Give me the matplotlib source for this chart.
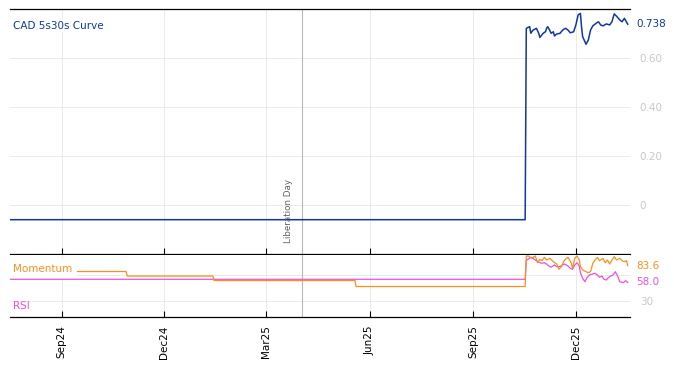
import matplotlib
matplotlib.use("Agg")
import matplotlib.pyplot as plt
import matplotlib.dates as mdates
import pandas as pd

# ---------------- data ----------------
curve_dates = ["2024-07-17", "2025-10-17", "2025-10-18", "2025-10-21", "2025-10-22", "2025-10-24",
               "2025-10-27", "2025-10-29", "2025-10-30", "2025-11-02", "2025-11-04", "2025-11-05",
               "2025-11-06", "2025-11-08", "2025-11-09", "2025-11-11", "2025-11-12", "2025-11-14",
               "2025-11-17", "2025-11-18", "2025-11-20", "2025-11-22", "2025-11-24", "2025-11-26",
               "2025-11-29", "2025-12-01", "2025-12-03", "2025-12-05", "2025-12-06", "2025-12-07",
               "2025-12-10", "2025-12-12", "2025-12-14", "2025-12-16", "2025-12-19", "2025-12-21",
               "2025-12-23", "2025-12-25", "2025-12-28", "2025-12-31", "2026-01-02", "2026-01-04",
               "2026-01-06", "2026-01-09", "2026-01-11", "2026-01-13", "2026-01-16"]
curve_values = [-0.06, -0.06, 0.721, 0.728, 0.701, 0.714,
                0.721, 0.701, 0.684, 0.701, 0.707, 0.721,
                0.728, 0.711, 0.701, 0.707, 0.690, 0.698,
                0.701, 0.707, 0.717, 0.721, 0.714, 0.703,
                0.707, 0.735, 0.776, 0.782, 0.728, 0.687,
                0.656, 0.673, 0.714, 0.731, 0.742, 0.748,
                0.735, 0.731, 0.739, 0.735, 0.748, 0.780,
                0.771, 0.755, 0.748, 0.762, 0.738]

mom_dates = ["2024-07-17", "2024-10-28", "2024-10-29", "2025-01-13", "2025-01-14", "2025-05-19",
             "2025-05-20", "2025-10-17", "2025-10-18", "2025-10-20", "2025-10-23", "2025-10-26",
             "2025-10-28", "2025-10-30", "2025-11-01", "2025-11-03", "2025-11-05", "2025-11-08",
             "2025-11-11", "2025-11-14", "2025-11-16", "2025-11-18", "2025-11-21", "2025-11-24",
             "2025-11-27", "2025-11-28", "2025-11-30", "2025-12-02", "2025-12-04", "2025-12-05",
             "2025-12-07", "2025-12-10", "2025-12-12", "2025-12-14", "2025-12-16", "2025-12-18",
             "2025-12-20", "2025-12-22", "2025-12-25", "2025-12-27", "2025-12-29", "2025-12-31",
             "2026-01-02", "2026-01-04", "2026-01-06", "2026-01-09", "2026-01-11", "2026-01-13",
             "2026-01-15", "2026-01-16"]
mom_values = [74.7, 74.7, 67.8, 67.8, 60.9, 60.9,
              51.7, 51.7, 98.5, 98.5, 94.9, 98.5,
              88.2, 93.4, 91.3, 96.5, 92.3, 94.9,
              89.7, 86.2, 78.1, 82.1, 92.3, 96.5,
              87.3, 79.6, 94.9, 98.5, 92.3, 82.1,
              77.0, 74.4, 72.9, 74.4, 87.3, 92.3,
              96.5, 91.3, 94.9, 88.2, 92.3, 86.2,
              92.3, 97.4, 92.3, 94.9, 91.3, 89.7,
              91.3, 83.6]

rsi_dates = ["2024-07-17", "2025-10-17", "2025-10-18", "2025-10-21", "2025-10-23", "2025-10-25",
             "2025-10-27", "2025-10-30", "2025-11-01", "2025-11-03", "2025-11-05", "2025-11-07",
             "2025-11-09", "2025-11-12", "2025-11-14", "2025-11-17", "2025-11-19", "2025-11-21",
             "2025-11-24", "2025-11-26", "2025-11-28", "2025-11-30", "2025-12-02", "2025-12-04",
             "2025-12-05", "2025-12-07", "2025-12-09", "2025-12-11", "2025-12-13", "2025-12-16",
             "2025-12-18", "2025-12-20", "2025-12-22", "2025-12-24", "2025-12-26", "2025-12-28",
             "2025-12-30", "2026-01-01", "2026-01-03", "2026-01-05", "2026-01-07", "2026-01-09",
             "2026-01-12", "2026-01-14", "2026-01-16"]
rsi_values = [62.8, 62.8, 92.0, 94.9, 96.5, 93.4,
              91.3, 88.2, 87.3, 88.2, 86.2, 83.1,
              81.2, 84.7, 82.1, 82.1, 84.7, 86.2,
              83.1, 79.6, 78.1, 84.7, 88.2, 83.1,
              72.9, 64.3, 59.1, 65.8, 69.4, 70.9,
              72.0, 69.4, 65.8, 67.8, 62.8, 61.7,
              65.8, 67.8, 69.4, 74.4, 67.8, 59.1,
              57.6, 60.6, 58.0]

event_date = "2025-04-02"
event_label = "Liberation Day"
x_start, x_end = "2024-07-17", "2026-01-18"

# ---------------- style ----------------
BLUE = "#1038a0"
ORANGE = "#f7901e"
PINK = "#f050d8"
GRID = "#e8e8e8"
TICKGRAY = "#c8c8c8"

plt.rcParams["font.family"] = ["DejaVu Sans"]

fig = plt.figure(figsize=(6.74, 3.66), dpi=100)
ax1 = fig.add_axes([10 / 674, 1 - 254 / 366, 620 / 674, 245 / 366])
ax2 = fig.add_axes([10 / 674, 1 - 317 / 366, 620 / 674, 62 / 366], sharex=ax1)

cd = pd.to_datetime(curve_dates)
md = pd.to_datetime(mom_dates)
rd = pd.to_datetime(rsi_dates)
ev = pd.Timestamp(event_date)

# top panel
ax1.plot(cd, curve_values, color=BLUE, lw=1.1, zorder=3)
ax1.set_ylim(-0.2, 0.8)
ax1.set_yticks([0, 0.2, 0.4, 0.6])
ax1.set_yticklabels(["0", "0.20", "0.40", "0.60"])
ax1.yaxis.tick_right()
ax1.tick_params(axis="y", length=0, colors=TICKGRAY, labelsize=7.5, pad=7)
ax1.tick_params(axis="x", direction="in", length=4, labelbottom=False, color="black")
ax1.grid(True, color=GRID, lw=0.6)
for s in ["left", "right"]:
    ax1.spines[s].set_visible(False)
ax1.spines["top"].set_linewidth(0.9)
ax1.spines["bottom"].set_linewidth(0.9)
ax1.axvline(ev, color="#b8b8b8", lw=0.8, zorder=2)
ax1.text(ev - pd.Timedelta(days=12), -0.155, event_label, rotation=90, color="#606060",
         fontsize=6.3, ha="center", va="bottom")
ax1.text(0.005, 0.932, "CAD 5s30s Curve", transform=ax1.transAxes, color=BLUE,
         fontsize=7.5, ha="left", va="center",
         bbox=dict(facecolor="white", edgecolor="none", pad=1.0), zorder=5)
ax1.text(1.01, curve_values[-1], f"{curve_values[-1]:.3f}", transform=ax1.get_yaxis_transform(),
         color=BLUE, fontsize=7.5, ha="left", va="center",
         bbox=dict(facecolor="white", edgecolor="none", pad=0.5), clip_on=False, zorder=6)

# bottom panel
ax2.plot(rd, rsi_values, color=PINK, lw=0.9, zorder=3)
ax2.plot(md, mom_values, color=ORANGE, lw=0.9, zorder=3)
ax2.set_ylim(5, 100)
ax2.set_yticks([30, 70])
ax2.set_yticklabels(["30", ""])
ax2.yaxis.tick_right()
ax2.tick_params(axis="y", length=0, colors=TICKGRAY, labelsize=7.5, pad=7)
ax2.grid(True, color=GRID, lw=0.6)
for s in ["left", "right", "top"]:
    ax2.spines[s].set_visible(False)
ax2.spines["bottom"].set_linewidth(0.9)
ax2.axvline(ev, color="#b8b8b8", lw=0.8, zorder=2)
ax2.text(0.005, 0.78, "Momentum", transform=ax2.transAxes, color=ORANGE, fontsize=7.5,
         ha="left", va="center",
         bbox=dict(facecolor="white", edgecolor="none", boxstyle="square,pad=0.45"),
         zorder=5, clip_on=False)
ax2.text(0.005, 0.17, "RSI", transform=ax2.transAxes, color=PINK, fontsize=7.5,
         ha="left", va="center", zorder=5)
ax2.text(1.01, mom_values[-1], f"{mom_values[-1]:.1f}", transform=ax2.get_yaxis_transform(),
         color=ORANGE, fontsize=7.5, ha="left", va="center",
         bbox=dict(facecolor="white", edgecolor="none", pad=0.3), clip_on=False, zorder=6)
ax2.text(1.01, rsi_values[-1], f"{rsi_values[-1]:.1f}", transform=ax2.get_yaxis_transform(),
         color=PINK, fontsize=7.5, ha="left", va="center",
         bbox=dict(facecolor="white", edgecolor="none", pad=0.3), clip_on=False, zorder=6)

ax2.set_xlim(pd.Timestamp(x_start), pd.Timestamp(x_end))
ax2.xaxis.set_major_locator(mdates.MonthLocator(bymonth=[3, 6, 9, 12]))
ax2.xaxis.set_major_formatter(mdates.DateFormatter("%b%y"))
ax2.tick_params(axis="x", direction="in", length=4, labelsize=7.5, rotation=90, pad=6)

fig.savefig("out.png", dpi=100)
